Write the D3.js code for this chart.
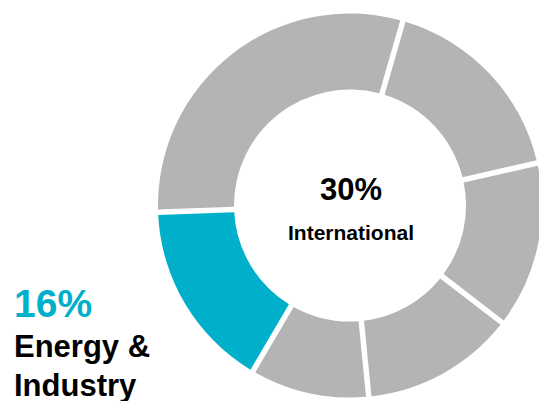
<!DOCTYPE html>
<html>
<head>
<meta charset="utf-8">
<script src="https://cdn.jsdelivr.net/npm/d3@7"></script>
<style>
  html, body { margin: 0; padding: 0; background: #fff; }
  svg { display: block; font-family: "Liberation Sans", Arial, sans-serif; }
</style>
</head>
<body>
<svg id="chart" width="539" height="401"></svg>
<script>
// Share of each segment, clockwise from the top-left
const categories = ["International", "Segment B", "Segment C", "Segment D", "Segment E", "Energy & Industry"];
const shares = [30, 17, 14, 13, 10, 16];
const highlighted = ["Energy & Industry"];

const width = 539, height = 401;
const cx = 350, cy = 205.5;
const outerR = 192, innerR = 116;
const grey = "#b4b4b4", accent = "#00b0ca";

const svg = d3.select("#chart");

const data = categories.map((c, i) => ({ category: c, value: shares[i] }));

const start = -92 * Math.PI / 180;
const pie = d3.pie()
  .sort(null)
  .value(d => d.value)
  .startAngle(start)
  .endAngle(start + 2 * Math.PI);

const arc = d3.arc()
  .innerRadius(innerR)
  .outerRadius(outerR)
  .padAngle(0.055)
  .padRadius(100);

const color = d3.scaleOrdinal()
  .domain(categories)
  .range(categories.map(c => highlighted.includes(c) ? accent : grey));

const g = svg.append("g").attr("transform", `translate(${cx},${cy})`);

g.selectAll("path")
  .data(pie(data))
  .join("path")
  .attr("d", arc)
  .attr("fill", d => color(d.data.category));

// Centre label: the International share
const intl = data[0];
g.append("text")
  .attr("x", 1).attr("y", -6)
  .attr("text-anchor", "middle")
  .attr("font-weight", "bold")
  .attr("font-size", 31)
  .attr("fill", "#000")
  .text(intl.value + "%");
g.append("text")
  .attr("x", 1).attr("y", 34)
  .attr("text-anchor", "middle")
  .attr("font-weight", "bold")
  .attr("font-size", 21)
  .attr("fill", "#000")
  .text(intl.category);

// Side label: the highlighted segment
const energy = data[5];
const side = svg.append("g").attr("transform", "translate(14,0)");
side.append("text")
  .attr("x", 0).attr("y", 316.5)
  .attr("font-weight", "bold")
  .attr("font-size", 39)
  .attr("fill", accent)
  .text(energy.value + "%");
side.append("text")
  .attr("x", 0).attr("y", 357)
  .attr("font-weight", "bold")
  .attr("font-size", 31)
  .attr("fill", "#000")
  .text("Energy &");
side.append("text")
  .attr("x", 0).attr("y", 395.5)
  .attr("font-weight", "bold")
  .attr("font-size", 31)
  .attr("fill", "#000")
  .text("Industry");
</script>
</body>
</html>
